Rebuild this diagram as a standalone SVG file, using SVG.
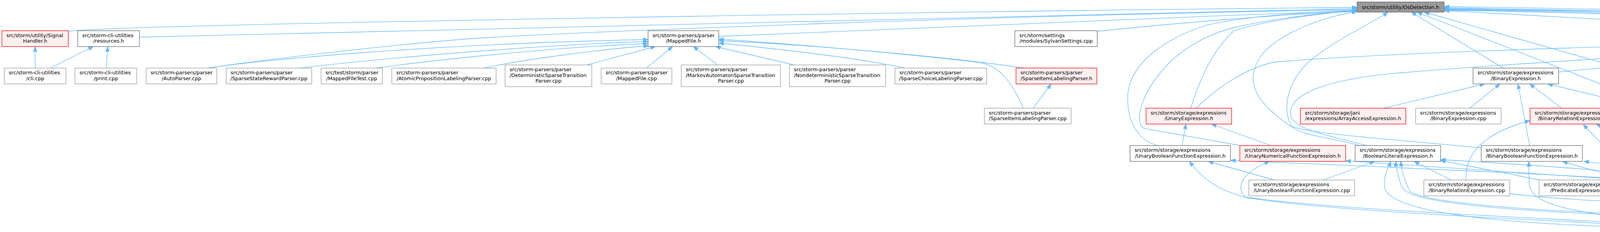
<svg xmlns="http://www.w3.org/2000/svg" width="5958" height="593" viewBox="0 0 5958 593">
<style>
text{font-family:"DejaVu Sans","Liberation Sans",sans-serif;font-size:12.9px;fill:#000}
.m{text-anchor:middle}
rect{stroke-width:1.3}
.n{fill:#fff;stroke:#666}
.c{fill:#fff;stroke:#999}
.r{fill:#fff0f0;stroke:#f00}
.root{fill:#999;stroke:#666}
#edges path{fill:none;stroke:#63b8ff;stroke-width:1.3;marker-end:url(#ah)}
</style>
<defs>
<marker id="ah" viewBox="0 0 14 11" refX="13" refY="5.5" markerWidth="14" markerHeight="11" orient="auto" markerUnits="userSpaceOnUse"><path d="M0,0.5 L13,5.5 L0,10.5 z" fill="#63b8ff" stroke="#63b8ff"/></marker>
</defs>
<rect width="5958" height="593" fill="#fff"/>
<g id="edges">
<path d="M90,174 L90,119"/>
<path d="M129,174 L239,119"/>
<path d="M272,174 L276,119"/>
<path d="M175,80 C300,62 2500,28 3474,19"/>
<path d="M357,95 C600,88 2000,54 3474,22"/>
<path d="M532,174 C650,155 1000,115 1200,99 C1500,80 2600,38 3474,25"/>
<path d="M532,174 C650,155 1100,112 1659,101"/>
<path d="M768,174 C900,158 1300,118 1659,106"/>
<path d="M962,174 C1100,155 1400,122 1659,111"/>
<path d="M1238,174 C1350,150 1550,125 1661,117"/>
<path d="M1502,166 L1678,119"/>
<path d="M1655,174 L1722,119"/>
<path d="M1837,166 L1775,119"/>
<path d="M2033,166 L1832,119"/>
<path d="M2316,174 C2200,148 2000,126 1840,110"/>
<path d="M2622,174 C2450,148 2100,116 1840,104"/>
<path d="M2620,276.5 C2590,210 2560,170 2510,160 C2300,135 2000,110 1840,100"/>
<path d="M2645,276.5 L2691,214.5"/>
<path d="M1840,93 C2000,86 2800,52 3474,27"/>
<path d="M2809,80 C3000,60 3300,35 3474,29"/>
<path d="M2963,372 C2920,360 2885,320 2887,246 C2890,160 2990,95 3090,64 C3200,40 3350,30 3474,27"/>
<path d="M3175,372 L2928,328 C2905,315 2915,240 2994,160 C3050,105 3120,80 3160,70 C3250,50 3380,32 3474,28"/>
<path d="M3048,276.5 C3070,210 3100,130 3160,78 C3250,50 3400,32 3474,27"/>
<path d="M3792,378 C3550,355 3330,340 3300,320 C3200,250 3190,200 3230,140 C3280,80 3400,40 3474,30"/>
<path d="M3481,372 C3400,350 3320,345 3305,320 C3280,270 3300,200 3360,150 C3430,95 3520,55 3553,31"/>
<path d="M3848,174 L3613,31"/>
<path d="M4256,276.5 L3628,31"/>
<path d="M4507,276.5 C4460,262 4420,252 4400,245 L3646,31"/>
<path d="M4843,91 C4500,70 3900,40 3697,27"/>
<path d="M5683,80 C5300,55 4300,30 3697,20"/>
<path d="M5722,174 C5680,120 5640,85 5611,77 C5400,50 4300,30 3697,22"/>
<path d="M5473,372 C5530,320 5540,250 5510,180 C5470,100 5300,70 5200,62 C4800,40 4200,30 3697,24"/>
<path d="M5804,460 C5900,400 5952,330 5952,200 C5952,100 5930,78 5900,74 C5500,55 4300,25 3697,17"/>
<path d="M5345,174 C5250,140 5100,100 4950,75 C4600,45 4100,30 3697,25"/>
<path d="M5240,372 C5350,365 5480,350 5505,300 C5530,230 5520,170 5450,130 C5350,85 4500,40 3697,26"/>
<path d="M3062,276.5 C3120,220 3190,175 3260,159 C3600,130 4400,110 4843,103"/>
<path d="M3500,372 C3390,345 3320,330 3305,300 C3290,240 3400,200 3600,185 C3900,160 4500,125 4843,110"/>
<path d="M3990,184 C4300,155 4600,130 4843,113"/>
<path d="M4573,174 C4650,150 4780,130 4850,120"/>
<path d="M4834,174 L4915,120"/>
<path d="M4583,276.5 C4640,220 4660,180 4680,165 C4740,140 4800,128 4843,117"/>
<path d="M4827,276.5 L4808,214.5"/>
<path d="M4868,276.5 C4920,240 4960,190 4953,120"/>
<path d="M4938,372 C4990,330 4995,250 4963,120"/>
<path d="M5130,372 C5080,300 5040,220 4973,120"/>
<path d="M5299,174 C5200,150 5100,125 5062,117"/>
<path d="M5633,180 L5062,112"/>
<path d="M5380,372 C5300,345 5220,330 5180,300 C5100,240 5040,180 4983,120"/>
<path d="M5819,548 C5900,500 5890,440 5830,416 C5750,385 5600,380 5500,365 C5350,355 5230,340 5170,290 C5120,240 5060,170 5000,120"/>
<path d="M5299,269 C5260,230 5230,200 5200,182 C5140,150 5080,130 5055,119"/>
<path d="M5340,269 L5369,214.5"/>
<path d="M5753,174 L5780,119"/>
<path d="M5767,460 C5800,380 5860,250 5870,200 C5875,160 5850,140 5830,119"/>
<path d="M5645,463 L5265,411"/>
<path d="M5755,548 L5755,500.5"/>
<path d="M5280,550 L5645,497"/>
<path d="M4683,560 C5000,540 5400,510 5645,496"/>
<path d="M4159,490 C4500,530 5200,525 5645,494"/>
<path d="M3865,495 C4300,545 5200,530 5645,493"/>
<path d="M4545,548 L4545,500.5"/>
<path d="M5645,558 C5300,535 4900,510 4655,490"/>
<path d="M4624,460 L4822,412.5"/>
<path d="M4655,467 L5050,412.5"/>
<path d="M4517,460 C4480,420 4465,380 4480,360 C4495,340 4515,330 4531,318"/>
<path d="M4655,470 C4900,440 5200,420 5340,412.5"/>
<path d="M4655,476 C5000,470 5400,440 5560,390 C5650,350 5730,270 5742,214.5"/>
<path d="M4655,479 C5000,460 5400,420 5460,360 C5490,320 5470,260 5430,214.5"/>
<path d="M4437,470 C4200,440 3900,420 3688,408"/>
<path d="M4435,463 L4055,412.5"/>
<path d="M4490,460 L4086,318"/>
<path d="M4514,460 L4330,318"/>
<path d="M4562,372 L4371,318"/>
<path d="M4437,474 C4000,445 3500,425 3150,410"/>
<path d="M4437,478 C4100,455 3700,430 3445,411"/>
<path d="M4273,548 L4053,318"/>
<path d="M4294,548 L4297,318"/>
<path d="M4308,548 C4380,460 4460,380 4524,318"/>
<path d="M4200,565 C4050,540 3920,530 3915,470 C3913,440 3914,425 3914,412.5"/>
<path d="M4200,572 C3900,555 3400,535 3183,503 C3120,485 3080,460 3045,412.5"/>
<path d="M4200,576 C3900,560 3400,540 3190,505 C3160,480 3180,440 3250,412.5"/>
<path d="M4200,582 C3800,570 3560,540 3545,480 C3540,450 3555,430 3560,412.5"/>
<path d="M4408,560 C4000,545 3620,530 3590,480 C3578,450 3574,430 3573,412.5"/>
<path d="M5062,568 C4500,560 3700,545 3610,490 C3595,460 3588,435 3586,412.5"/>
<path d="M4476,548 L4000,413"/>
<path d="M4159,470 L4790,412.5"/>
<path d="M3942,460 L3687,410"/>
<path d="M3753,460 C3750,390 3800,340 3917,308"/>
<path d="M3715,460 L3620,412.5"/>
<path d="M3262,460 L3093,412.5"/>
<path d="M3387,460 L3519,412.5"/>
<path d="M4617,372 L4586,319"/>
<path d="M3762,276.5 L3840,214.5"/>
<path d="M3998,276.5 L3916,214.5"/>
<path d="M4220,276.5 L3962,214.5"/>
<path d="M3916,372 L3886,214.5"/>
<path d="M3542,276.5 L3801,214.5"/>
<path d="M3026,372 L3036,317"/>
<path d="M3254,372 L3101,317"/>
<path d="M5042,372 C4900,355 4400,345 4113,318"/>
<path d="M4383,548 C4600,510 4850,450 5033,412.5"/>
</g>
<g id="n-OsD"><rect class="root" x="3474" y="5" width="223" height="26"/><text class="m" x="3585.5" y="22.5">src/storm/utility/OsDetection.h</text></g>
<g id="n-SH"><rect class="r" x="5" y="78.5" width="170" height="40.5"/><text x="16.5" y="94.5">src/storm/utility/Signal</text><text class="m" x="90" y="109.1">Handler.h</text></g>
<g id="n-RS"><rect class="n" x="199" y="78.5" width="158" height="40.5"/><text x="210.5" y="94.5">src/storm-cli-utilities</text><text class="m" x="278" y="109.1">/resources.h</text></g>
<g id="n-MFh"><rect class="n" x="1659" y="78.5" width="181" height="40.5"/><text x="1670.5" y="94.5">src/storm-parsers/parser</text><text class="m" x="1749.5" y="109.1">/MappedFile.h</text></g>
<g id="n-SY"><rect class="n" x="2598" y="78.5" width="211" height="40.5"/><text x="2609.5" y="94.5">src/storm/settings</text><text class="m" x="2703.5" y="109.1">/modules/SylvanSettings.cpp</text></g>
<g id="n-BEh"><rect class="n" x="4843" y="78.5" width="219" height="40.5"/><text x="4854.5" y="94.5">src/storm/storage/expressions</text><text class="m" x="4952.5" y="109.1">/BaseExpression.h</text></g>
<g id="n-VAR"><rect class="r" x="5683" y="78.5" width="218" height="40.5"/><text x="5694.5" y="94.5">src/storm/storage/expressions</text><text class="m" x="5792" y="109.1">/Variable.h</text></g>
<g id="n-CLI"><rect class="c" x="11" y="174" width="158" height="40.5"/><text x="22.5" y="190">src/storm-cli-utilities</text><text class="m" x="90" y="204.6">/cli.cpp</text></g>
<g id="n-PRT"><rect class="c" x="192" y="174" width="158" height="40.5"/><text x="203.5" y="190">src/storm-cli-utilities</text><text class="m" x="271" y="204.6">/print.cpp</text></g>
<g id="n-AP"><rect class="c" x="374" y="174" width="181" height="40.5"/><text x="385.5" y="190">src/storm-parsers/parser</text><text class="m" x="464.5" y="204.6">/AutoParser.cpp</text></g>
<g id="n-SSR"><rect class="c" x="579" y="174" width="219" height="40.5"/><text x="590.5" y="190">src/storm-parsers/parser</text><text class="m" x="688.5" y="204.6">/SparseStateRewardParser.cpp</text></g>
<g id="n-MFT"><rect class="c" x="822" y="174" width="157" height="40.5"/><text x="833.5" y="190">src/test/storm/parser</text><text class="m" x="900.5" y="204.6">/MappedFileTest.cpp</text></g>
<g id="n-APL"><rect class="c" x="1003" y="174" width="267" height="40.5"/><text x="1014.5" y="190">src/storm-parsers/parser</text><text class="m" x="1136.5" y="204.6">/AtomicPropositionLabelingParser.cpp</text></g>
<g id="n-DST"><rect class="c" x="1293" y="166" width="222" height="55.5"/><text x="1304.5" y="182">src/storm-parsers/parser</text><text x="1304.5" y="196.6">/DeterministicSparseTransition</text><text class="m" x="1404" y="211.2">Parser.cpp</text></g>
<g id="n-MFc"><rect class="c" x="1539" y="174" width="181" height="40.5"/><text x="1550.5" y="190">src/storm-parsers/parser</text><text class="m" x="1629.5" y="204.6">/MappedFile.cpp</text></g>
<g id="n-MAST"><rect class="c" x="1744" y="166" width="254" height="55.5"/><text x="1755.5" y="182">src/storm-parsers/parser</text><text x="1755.5" y="196.6">/MarkovAutomatonSparseTransition</text><text class="m" x="1871" y="211.2">Parser.cpp</text></g>
<g id="n-NST"><rect class="c" x="2021" y="166" width="246" height="55.5"/><text x="2032.5" y="182">src/storm-parsers/parser</text><text x="2032.5" y="196.6">/NondeterministicSparseTransition</text><text class="m" x="2144" y="211.2">Parser.cpp</text></g>
<g id="n-SCL"><rect class="c" x="2291" y="174" width="235" height="40.5"/><text x="2302.5" y="190">src/storm-parsers/parser</text><text class="m" x="2408.5" y="204.6">/SparseChoiceLabelingParser.cpp</text></g>
<g id="n-SILh"><rect class="r" x="2601" y="174" width="207" height="40.5"/><text x="2612.5" y="190">src/storm-parsers/parser</text><text class="m" x="2704.5" y="204.6">/SparseItemLabelingParser.h</text></g>
<g id="n-BINh"><rect class="n" x="3771" y="174" width="219" height="40.5"/><text x="3782.5" y="190">src/storm/storage/expressions</text><text class="m" x="3880.5" y="204.6">/BinaryExpression.h</text></g>
<g id="n-FCE"><rect class="r" x="4342" y="174" width="271" height="40.5"/><text x="4353.5" y="190">src/storm/storage/jani</text><text class="m" x="4477.5" y="204.6">/expressions/FunctionCallExpression.h</text></g>
<g id="n-ARR"><rect class="r" x="4688" y="174" width="227" height="40.5"/><text x="4699.5" y="190">src/storm/storage/jani</text><text class="m" x="4801.5" y="204.6">/expressions/ArrayExpression.h</text></g>
<g id="n-RLE"><rect class="r" x="5277" y="174" width="219" height="40.5"/><text x="5288.5" y="190">src/storm/storage/expressions</text><text class="m" x="5386.5" y="204.6">/RationalLiteralExpression.h</text></g>
<g id="n-VEX"><rect class="r" x="5633" y="174" width="218" height="40.5"/><text x="5644.5" y="190">src/storm/storage/expressions</text><text class="m" x="5742" y="204.6">/VariableExpression.h</text></g>
<g id="n-SILc"><rect class="c" x="2520" y="276.5" width="222" height="40.5"/><text x="2531.5" y="292.5">src/storm-parsers/parser</text><text class="m" x="2631" y="307.1">/SparseItemLabelingParser.cpp</text></g>
<g id="n-UNh"><rect class="r" x="2934" y="276.5" width="219" height="40.5"/><text x="2945.5" y="292.5">src/storm/storage/expressions</text><text class="m" x="3043.5" y="307.1">/UnaryExpression.h</text></g>
<g id="n-AAE"><rect class="r" x="3329" y="276.5" width="270" height="40.5"/><text x="3340.5" y="292.5">src/storm/storage/jani</text><text class="m" x="3464" y="307.1">/expressions/ArrayAccessExpression.h</text></g>
<g id="n-BINc"><rect class="c" x="3624" y="276.5" width="219" height="40.5"/><text x="3635.5" y="292.5">src/storm/storage/expressions</text><text class="m" x="3733.5" y="307.1">/BinaryExpression.cpp</text></g>
<g id="n-BRh"><rect class="r" x="3917" y="276.5" width="220" height="40.5"/><text x="3928.5" y="292.5">src/storm/storage/expressions</text><text class="m" x="4027" y="307.1">/BinaryRelationExpression.h</text></g>
<g id="n-BNh"><rect class="n" x="4161" y="276.5" width="274" height="40.5"/><text x="4172.5" y="292.5">src/storm/storage/expressions</text><text class="m" x="4298" y="307.1">/BinaryNumericalFunctionExpression.h</text></g>
<g id="n-ILE"><rect class="r" x="4459" y="276.5" width="219" height="40.5"/><text x="4470.5" y="292.5">src/storm/storage/expressions</text><text class="m" x="4568.5" y="307.1">/IntegerLiteralExpression.h</text></g>
<g id="n-VAE"><rect class="r" x="4703" y="276.5" width="262" height="40.5"/><text x="4714.5" y="292.5">src/storm/storage/jani</text><text class="m" x="4834" y="307.1">/expressions/ValueArrayExpression.h</text></g>
<g id="n-TNL"><rect class="r" x="5192" y="269" width="259" height="55.5"/><text x="5203.5" y="285">src/storm/storage/jani</text><text x="5203.5" y="299.6">/expressions/TranscendentalNumber</text><text class="m" x="5321.5" y="314.2">LiteralExpression.h</text></g>
<g id="n-UBh"><rect class="n" x="2893" y="372" width="257" height="40.5"/><text x="2904.5" y="388">src/storm/storage/expressions</text><text class="m" x="3021.5" y="402.6">/UnaryBooleanFunctionExpression.h</text></g>
<g id="n-UNFh"><rect class="r" x="3174" y="372" width="271" height="40.5"/><text x="3185.5" y="388">src/storm/storage/expressions</text><text class="m" x="3309.5" y="402.6">/UnaryNumericalFunctionExpression.h</text></g>
<g id="n-BLh"><rect class="n" x="3469" y="372" width="219" height="40.5"/><text x="3480.5" y="388">src/storm/storage/expressions</text><text class="m" x="3578.5" y="402.6">/BooleanLiteralExpression.h</text></g>
<g id="n-BBh"><rect class="n" x="3792" y="372" width="259" height="40.5"/><text x="3803.5" y="388">src/storm/storage/expressions</text><text class="m" x="3921.5" y="402.6">/BinaryBooleanFunctionExpression.h</text></g>
<g id="n-BNc"><rect class="c" x="4487" y="372" width="289" height="40.5"/><text x="4498.5" y="388">src/storm/storage/expressions</text><text class="m" x="4631.5" y="402.6">/BinaryNumericalFunctionExpression.cpp</text></g>
<g id="n-PEh"><rect class="r" x="4798" y="372" width="219" height="40.5"/><text x="4809.5" y="388">src/storm/storage/expressions</text><text class="m" x="4907.5" y="402.6">/PredicateExpression.h</text></g>
<g id="n-EXh"><rect class="r" x="5041" y="372" width="219" height="40.5"/><text x="5052.5" y="388">src/storm/storage/expressions</text><text class="m" x="5150.5" y="402.6">/Expression.h</text></g>
<g id="n-ITE"><rect class="r" x="5335" y="372" width="219" height="40.5"/><text x="5346.5" y="388">src/storm/storage/expressions</text><text class="m" x="5444.5" y="402.6">/IfThenElseExpression.h</text></g>
<g id="n-UBc"><rect class="c" x="3197" y="460" width="271" height="40.5"/><text x="3208.5" y="476">src/storm/storage/expressions</text><text class="m" x="3332.5" y="490.6">/UnaryBooleanFunctionExpression.cpp</text></g>
<g id="n-BRc"><rect class="c" x="3645" y="460" width="220" height="40.5"/><text x="3656.5" y="476">src/storm/storage/expressions</text><text class="m" x="3755" y="490.6">/BinaryRelationExpression.cpp</text></g>
<g id="n-PEc"><rect class="c" x="3940" y="460" width="219" height="40.5"/><text x="3951.5" y="476">src/storm/storage/expressions</text><text class="m" x="4049.5" y="490.6">/PredicateExpression.cpp</text></g>
<g id="n-EXS"><rect class="r" x="4437" y="460" width="218" height="40.5"/><text x="4448.5" y="476">src/storm/storage/expressions</text><text class="m" x="4546" y="490.6">/Expressions.h</text></g>
<g id="n-EM"><rect class="r" x="5645" y="460" width="220" height="40.5"/><text x="5656.5" y="476">src/storm/storage/expressions</text><text class="m" x="5755" y="490.6">/ExpressionManager.h</text></g>
<g id="n-JSON"><rect class="c" x="4200" y="548" width="185" height="40.5"/><text x="4211.5" y="564">src/storm/storage/jani</text><text class="m" x="4292.5" y="578.6">/visitor/JSONExporter.cpp</text></g>
<g id="n-BBc"><rect class="c" x="4408" y="548" width="275" height="40.5"/><text x="4419.5" y="564">src/storm/storage/expressions</text><text class="m" x="4545.5" y="578.6">/BinaryBooleanFunctionExpression.cpp</text></g>
<g id="n-BLc"><rect class="c" x="5062" y="548" width="218" height="40.5"/><text x="5073.5" y="564">src/storm/storage/expressions</text><text class="m" x="5171" y="578.6">/BooleanLiteralExpression.cpp</text></g>
<g id="n-BEc"><rect class="c" x="5645" y="548" width="220" height="40.5"/><text x="5656.5" y="564">src/storm/storage/expressions</text><text class="m" x="5755" y="578.6">/BaseExpression.cpp</text></g>
</svg>
